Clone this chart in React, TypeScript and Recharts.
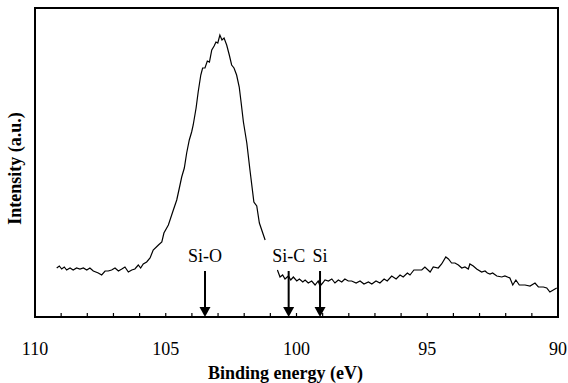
import { LineChart, Line, XAxis, YAxis, ReferenceArea, ReferenceLine } from "recharts"

const FONT = "'Liberation Serif', 'Times New Roman', serif"

// Si 2p spectrum, main (oxide) part
const peakEnergy = [
    109.17, 109.07, 108.98, 108.88, 108.79, 108.66, 108.54, 108.41, 108.28, 108.15,
    108.02, 107.9, 107.77, 107.58, 107.45, 107.32, 107.2, 107.07, 106.94, 106.81,
    106.68, 106.56, 106.43, 106.3, 106.18, 106.05, 105.96, 105.86, 105.73, 105.6,
    105.48, 105.28, 105.15, 105.07, 104.9, 104.71, 104.58, 104.48, 104.39, 104.29,
    104.2, 104.1, 104.01, 103.95, 103.84, 103.76, 103.66, 103.59, 103.5, 103.41,
    103.33, 103.24, 103.15, 103.08, 103.01, 102.93, 102.85, 102.77, 102.67, 102.57,
    102.48, 102.39, 102.29, 102.19, 102.12, 102.03, 101.9, 101.78, 101.63, 101.52,
    101.42, 101.2,
]
const peakIntensity = [
    49, 51, 48, 50, 47, 49, 47, 49, 48, 49,
    47, 49, 46, 44, 42, 46, 46, 47, 49, 46,
    48, 50, 45, 47, 48, 52, 49, 53, 55, 59,
    67, 72, 75, 84, 92, 107, 117, 129, 140, 149,
    164, 177, 185, 192, 209, 225, 242, 249, 249, 256,
    255, 267, 271, 275, 274, 282, 277, 279, 272, 262,
    252, 249, 242, 230, 215, 195, 174, 147, 115, 111,
    94, 77,
]

// low energy tail
const tailEnergy = [
    100.73, 100.63, 100.53, 100.44, 100.31, 100.22, 100.12, 99.99, 99.89, 99.76,
    99.67, 99.55, 99.42, 99.29, 99.17, 99.1, 99.0, 98.91, 98.78, 98.65,
    98.53, 98.4, 98.27, 98.15, 98.02, 97.89, 97.72, 97.57, 97.42, 97.25,
    97.12, 96.96, 96.81, 96.65, 96.53, 96.36, 96.19, 96.04, 95.92, 95.76,
    95.66, 95.51, 95.34, 95.21, 95.09, 94.89, 94.77, 94.58, 94.45, 94.29,
    94.19, 94.07, 93.94, 93.81, 93.68, 93.56, 93.43, 93.37, 93.24, 93.11,
    92.92, 92.79, 92.7, 92.6, 92.5, 92.34, 92.15, 92.03, 91.84, 91.73,
    91.61, 91.48, 91.26, 91.07, 90.88, 90.75, 90.56, 90.43, 90.31, 90.05,
]
const tailIntensity = [
    47, 40, 42, 38, 41, 37, 40, 36, 38, 35,
    37, 34, 36, 32, 36, 31, 34, 37, 36, 38,
    34, 37, 35, 38, 36, 36, 34, 36, 33, 35,
    33, 36, 34, 38, 36, 41, 38, 42, 40, 44,
    42, 47, 47, 47, 50, 45, 50, 49, 53, 60,
    58, 54, 54, 52, 49, 50, 48, 53, 51, 48,
    45, 46, 44, 43, 44, 41, 40, 41, 39, 32,
    37, 32, 32, 31, 34, 30, 30, 29, 25, 29,
]

const allTicks = [110, 109, 108, 107, 106, 105, 104, 103, 102, 101, 100, 99, 98, 97, 96, 95, 94, 93, 92, 91, 90]
const majorTicks = [110, 105, 100, 95, 90]

const markLabels = ["Si-O", "Si-C", "Si"]
const markEnergy = [103.5, 100.3, 99.1]
const ARROW_TOP = 46

const peakData = peakEnergy.map((e, i) => ({ ev: e, intensity: peakIntensity[i] }))
const tailData = tailEnergy.map((e, i) => ({ ev: e, intensity: tailIntensity[i] }))

const EnergyTick = (props: any) => {
    const { x, y, payload } = props
    const major = majorTicks.includes(payload.value)
    return (
        <g>
            <line x1={x} y1={y} x2={x} y2={y - 4} stroke="#000" strokeWidth={1.2} />
            {major && (
                <text x={x} y={y + 38} textAnchor="middle" fontFamily={FONT} fontSize={18} fill="#000">
                    {payload.value}
                </text>
            )}
        </g>
    )
}

const arrowShape = (label: string) => (props: any) => {
    const { x1, y1, x2, y2 } = props
    return (
        <g>
            <line x1={x1} y1={y1} x2={x2} y2={y2 - 9} stroke="#000" strokeWidth={2} />
            <polygon points={`${x2 - 5.5},${y2 - 10} ${x2 + 5.5},${y2 - 10} ${x2},${y2}`} fill="#000" />
            <text x={x1} y={y1 - 9} textAnchor="middle" fontFamily={FONT} fontSize={18} fill="#000">
                {label}
            </text>
        </g>
    )
}

export default function App() {
    return (
        <div style={{ position: "absolute", left: 0, top: 0, background: "#fff" }}>
            <LineChart width={568} height={383} margin={{ top: 8, right: 10, left: 0, bottom: 0 }}>
                <XAxis
                    dataKey="ev"
                    type="number"
                    domain={[90, 110]}
                    reversed
                    allowDataOverflow
                    ticks={allTicks}
                    interval={0}
                    height={66}
                    axisLine={false}
                    tickLine={false}
                    tickSize={0}
                    tickMargin={0}
                    tick={<EnergyTick />}
                    label={({ viewBox }: any) => (
                        <text
                            x={viewBox.x + viewBox.width / 2 - 11}
                            y={viewBox.y + 62}
                            textAnchor="middle"
                            fontFamily={FONT}
                            fontWeight="bold"
                            fontSize={18}
                            fill="#000"
                        >
                            Binding energy (eV)
                        </text>
                    )}
                />
                <YAxis
                    type="number"
                    domain={[0, 309]}
                    width={35}
                    tick={false}
                    axisLine={false}
                    tickLine={false}
                    label={({ viewBox }: any) => (
                        <text
                            x={15}
                            y={viewBox.y + viewBox.height / 2 + 6}
                            transform={`rotate(-90, 15, ${viewBox.y + viewBox.height / 2 + 6})`}
                            textAnchor="middle"
                            dominantBaseline="central"
                            fontFamily={FONT}
                            fontWeight="bold"
                            fontSize={18}
                            fill="#000"
                        >
                            Intensity (a.u.)
                        </text>
                    )}
                />
                <ReferenceArea x1={90} x2={110} y1={0} y2={309} fill="none" stroke="#000" strokeWidth={2} fillOpacity={0} />
                <Line data={peakData} dataKey="intensity" stroke="#000" strokeWidth={1.2} dot={false} isAnimationActive={false} />
                <Line data={tailData} dataKey="intensity" stroke="#000" strokeWidth={1.2} dot={false} isAnimationActive={false} />
                {markEnergy.map((e, i) => (
                    <ReferenceLine
                        key={markLabels[i]}
                        segment={[{ x: e, y: ARROW_TOP }, { x: e, y: 0 }]}
                        shape={arrowShape(markLabels[i])}
                    />
                ))}
            </LineChart>
        </div>
    )
}
